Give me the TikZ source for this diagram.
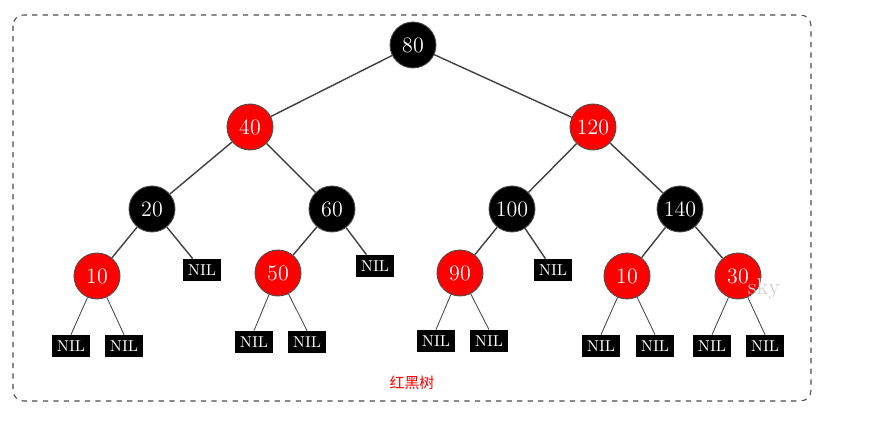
\documentclass[tikz,border=0pt]{standalone}
\usepackage{fontspec}
\newfontfamily\cjk{Noto Sans CJK SC}
\usetikzlibrary{calc}

\begin{document}
\begin{tikzpicture}[
  x=0.02cm, y=-0.02cm,
  rb/.style={circle, draw=black!70, line width=0.5pt, minimum size=0.92cm, inner sep=0pt,
    text=white, font=\fontsize{12.5}{12.5}\selectfont},
  redn/.style={rb, fill=red},
  blackn/.style={rb, fill=black},
  nil/.style={rectangle, fill=black, minimum width=0.76cm, minimum height=0.44cm, inner sep=0pt,
    text=white, font=\fontsize{9}{9}\selectfont},
  edge/.style={draw=black!75, line width=0.8pt},
  leaf/.style={draw=black!70, line width=0.5pt},
]

% 边界
\useasboundingbox (0,0) rectangle (879,421);
\draw[dashed, rounded corners=6pt, black!70, line width=0.6pt] (13,15) rectangle (811,401);

% 内部结点
\node[blackn] (n80)  at (413,45)  {80};
\node[redn]   (n40)  at (250,127) {40};
\node[redn]   (n120) at (593,127) {120};
\node[blackn] (n20)  at (152,209) {20};
\node[blackn] (n60)  at (332,209) {60};
\node[blackn] (n100) at (512,209) {100};
\node[blackn] (n140) at (680,209) {140};
\node[redn]   (n10)  at (97,276)  {10};
\node[redn]   (n50)  at (278,273) {50};
\node[redn]   (n90)  at (460,273) {90};
\node[redn]   (n10b) at (627,276) {10};
\node[redn]   (n30)  at (738,276) {30};

% NIL 叶子
\node[nil] (l20)  at (202,270) {NIL};
\node[nil] (l60)  at (375,266) {NIL};
\node[nil] (l100) at (553,270) {NIL};
\node[nil] (l10a) at (71,346)  {NIL};
\node[nil] (l10b) at (124,346) {NIL};
\node[nil] (l50a) at (254,342) {NIL};
\node[nil] (l50b) at (307,342) {NIL};
\node[nil] (l90a) at (436,341) {NIL};
\node[nil] (l90b) at (489,341) {NIL};
\node[nil] (l1a)  at (601,346) {NIL};
\node[nil] (l1b)  at (655,346) {NIL};
\node[nil] (l30a) at (712,346) {NIL};
\node[nil] (l30b) at (765,346) {NIL};

% 树边
\draw[edge] (n80) -- (n40);
\draw[edge] (n80) -- (n120);
\draw[edge] (n40) -- (n20);
\draw[edge] (n40) -- (n60);
\draw[edge] (n120) -- (n100);
\draw[edge] (n120) -- (n140);
\draw[edge] (n20) -- (n10);
\draw[edge] (n60) -- (n50);
\draw[edge] (n100) -- (n90);
\draw[edge] (n140) -- (n10b);
\draw[edge] (n140) -- (n30);
\draw[edge] (n20) -- (l20);
\draw[edge] (n60) -- (l60);
\draw[edge] (n100) -- (l100);

% 叶子边
\draw[leaf] (n10) -- (l10a.north);
\draw[leaf] (n10) -- (l10b.north);
\draw[leaf] (n50) -- (l50a.north);
\draw[leaf] (n50) -- (l50b.north);
\draw[leaf] (n90) -- (l90a.north);
\draw[leaf] (n90) -- (l90b.north);
\draw[leaf] (n10b) -- (l1a.north);
\draw[leaf] (n10b) -- (l1b.north);
\draw[leaf] (n30) -- (l30a.north);
\draw[leaf] (n30) -- (l30b.north);

% 标注
\node[text=red, font=\cjk\fontsize{8.5}{8.5}\selectfont] (title) at (412,383) {红黑树};
\node[text=black!18, font=\fontsize{13}{13}\selectfont] (mark) at (764,289) {sky};

\end{tikzpicture}
\end{document}
